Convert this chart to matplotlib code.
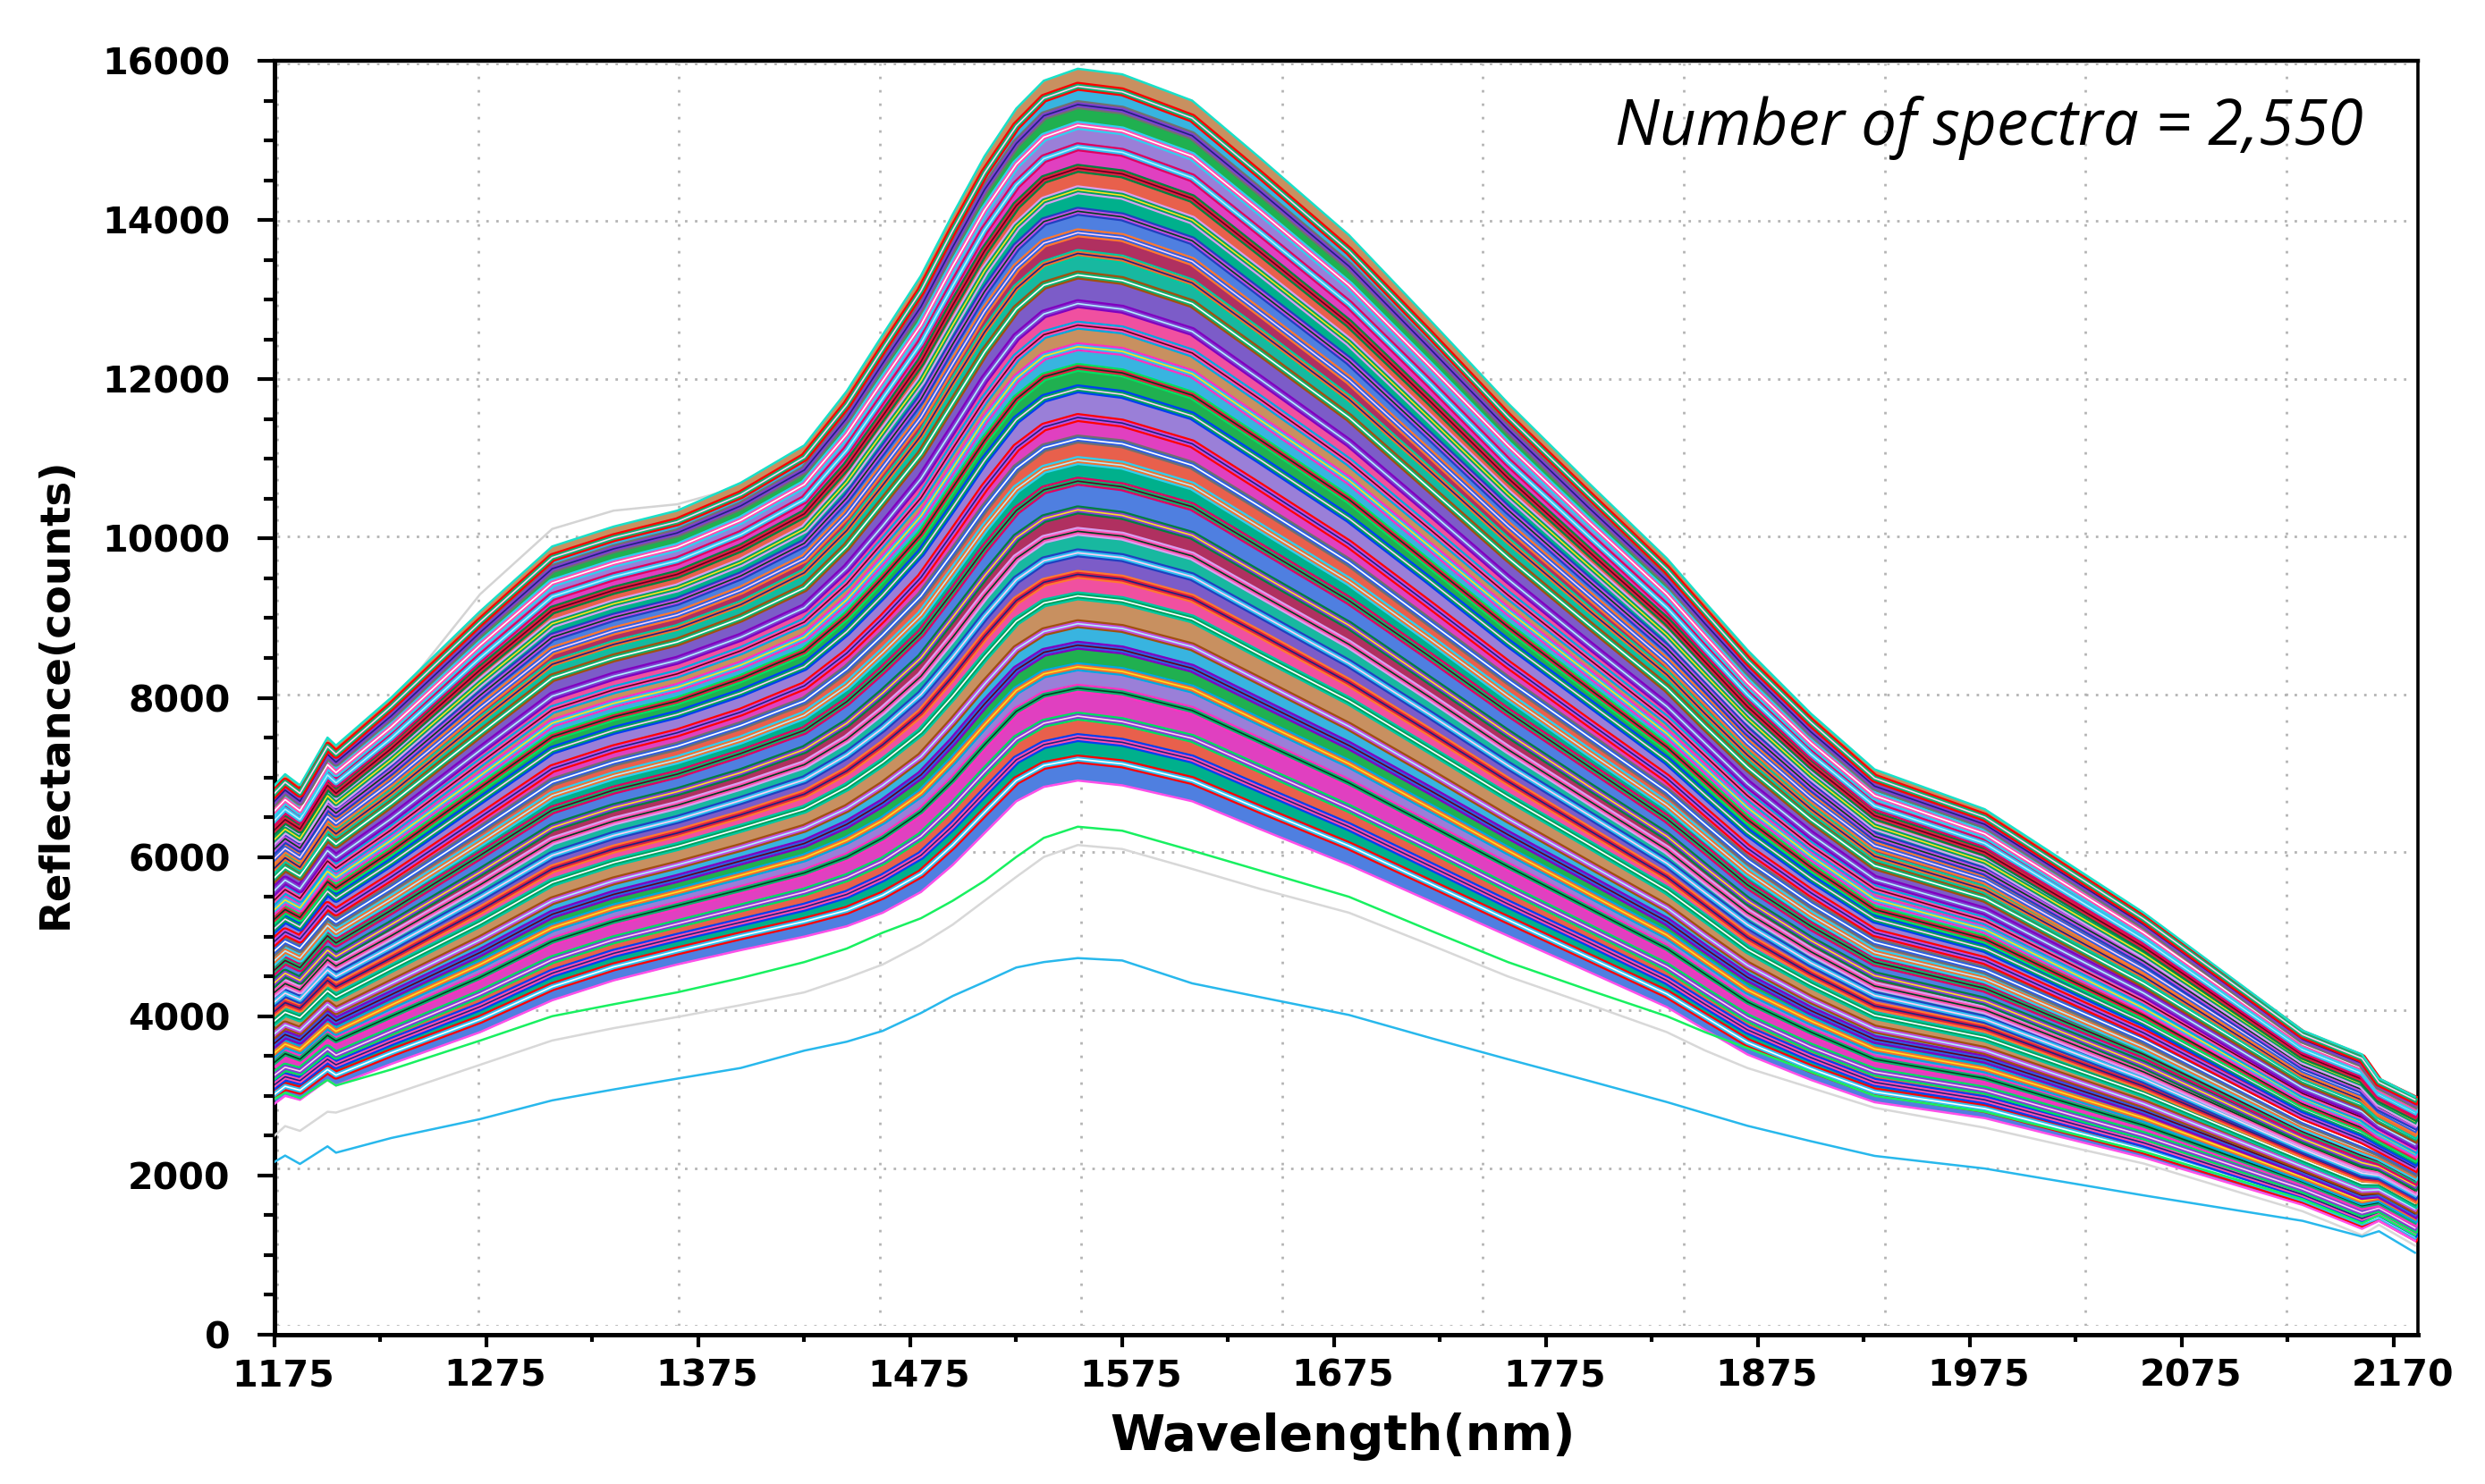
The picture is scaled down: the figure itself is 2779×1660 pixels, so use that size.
import matplotlib
matplotlib.use("Agg")
import matplotlib.pyplot as plt
from matplotlib.ticker import MultipleLocator
from matplotlib.transforms import ScaledTranslation

# values, one row per spectrum, band rows are estimates
wavelength = [1175, 1180, 1187, 1200, 1204, 1230, 1272, 1306, 1335, 1365, 1395, 1425, 1445, 1462, 1480, 1495, 1510, 1525, 1538,
              1554, 1575, 1608, 1640, 1682, 1720, 1757, 1795, 1832, 1850, 1870, 1900, 1930, 1982, 2057, 2132, 2160, 2168, 2185]

lowest_spectrum = [2170, 2250, 2145, 2366, 2286, 2470, 2708, 2943, 3080, 3216, 3350, 3568, 3680, 3816, 4040, 4254, 4430, 4612, 4680,
                   4730, 4700, 4413, 4240, 4016, 3730, 3460, 3190, 2922, 2780, 2624, 2430, 2246, 2087, 1750, 1430, 1232, 1300, 1030]
gray_spectrum = [2500, 2620, 2560, 2800, 2790, 3014, 3390, 3695, 3850, 3990, 4140, 4300, 4480, 4650, 4900, 5150, 5450, 5750, 6000,
                 6150, 6100, 5850, 5600, 5300, 4900, 4500, 4150, 3800, 3570, 3350, 3100, 2850, 2600, 2150, 1550, 1250, 1380, 1120]
green_spectrum = [2960, 3040, 2970, 3200, 3130, 3330, 3694, 4000, 4150, 4300, 4480, 4680, 4850, 5050, 5230, 5450, 5700, 6000, 6240,
                  6380, 6330, 6080, 5830, 5500, 5080, 4680, 4330, 4000, 3800, 3600, 3300, 3000, 2800, 2300, 1700, 1400, 1500, 1250]
gray_top_wavelength = [1175, 1180, 1187, 1200, 1204, 1230, 1272, 1306, 1335, 1365, 1395]
gray_top_spectrum = [6700, 6850, 6700, 7300, 7250, 7900, 9300, 10120, 10350, 10430, 10650]

band_spectra = [
    [2900, 3000, 2950, 3200, 3130, 3400, 3800, 4200, 4450, 4650, 4830, 5000, 5130, 5300, 5560, 5900, 6300, 6700, 6880, 6960, 6900, 6700, 6350, 5900, 5450, 5010, 4560, 4115, 3830, 3520, 3200, 2920, 2720, 2225, 1630, 1330, 1430, 1180],
    [3020, 3120, 3070, 3330, 3260, 3540, 3960, 4370, 4620, 4820, 5010, 5190, 5330, 5520, 5790, 6150, 6560, 6960, 7150, 7230, 7170, 6960, 6600, 6140, 5670, 5210, 4740, 4280, 3990, 3670, 3340, 3050, 2840, 2320, 1700, 1400, 1480, 1230],
    [3140, 3240, 3190, 3460, 3390, 3680, 4120, 4540, 4790, 4990, 5180, 5370, 5530, 5740, 6020, 6390, 6810, 7220, 7410, 7500, 7440, 7230, 6860, 6380, 5890, 5410, 4930, 4450, 4150, 3830, 3480, 3170, 2950, 2410, 1760, 1460, 1540, 1290],
    [3260, 3360, 3310, 3590, 3510, 3810, 4280, 4710, 4960, 5160, 5360, 5560, 5740, 5950, 6260, 6640, 7070, 7480, 7680, 7770, 7700, 7490, 7110, 6610, 6110, 5610, 5110, 4620, 4310, 3980, 3610, 3300, 3070, 2500, 1830, 1530, 1590, 1340],
    [3420, 3530, 3460, 3760, 3690, 4000, 4490, 4940, 5190, 5390, 5590, 5800, 6000, 6240, 6570, 6960, 7410, 7830, 8030, 8120, 8060, 7840, 7450, 6930, 6400, 5880, 5360, 4850, 4530, 4180, 3800, 3460, 3220, 2630, 1920, 1620, 1660, 1420],
    [3540, 3650, 3580, 3890, 3810, 4140, 4650, 5110, 5360, 5560, 5770, 5990, 6210, 6460, 6800, 7210, 7660, 8090, 8300, 8390, 8330, 8110, 7700, 7170, 6620, 6080, 5540, 5020, 4690, 4330, 3940, 3590, 3340, 2720, 1980, 1680, 1720, 1470],
    [3660, 3770, 3700, 4020, 3940, 4270, 4800, 5280, 5530, 5730, 5950, 6170, 6410, 6680, 7030, 7450, 7920, 8350, 8570, 8660, 8600, 8370, 7950, 7400, 6840, 6280, 5730, 5190, 4850, 4490, 4070, 3710, 3460, 2810, 2050, 1750, 1770, 1520],
    [3780, 3890, 3820, 4150, 4070, 4410, 4960, 5450, 5700, 5900, 6120, 6360, 6610, 6900, 7260, 7700, 8170, 8610, 8830, 8930, 8870, 8640, 8210, 7640, 7060, 6480, 5910, 5360, 5010, 4640, 4210, 3840, 3570, 2900, 2110, 1810, 1820, 1580],
    [3940, 4050, 3980, 4320, 4240, 4600, 5170, 5680, 5930, 6130, 6360, 6600, 6880, 7190, 7570, 8020, 8510, 8960, 9190, 9280, 9220, 8990, 8540, 7960, 7350, 6750, 6160, 5580, 5230, 4840, 4400, 4010, 3730, 3030, 2200, 1900, 1900, 1650],
    [4060, 4170, 4100, 4450, 4370, 4730, 5330, 5850, 6100, 6300, 6530, 6790, 7080, 7410, 7810, 8270, 8770, 9220, 9450, 9550, 9490, 9250, 8800, 8190, 7570, 6950, 6340, 5750, 5390, 4990, 4530, 4130, 3850, 3120, 2270, 1970, 1950, 1710],
    [4180, 4290, 4210, 4580, 4500, 4870, 5490, 6020, 6270, 6470, 6710, 6970, 7280, 7620, 8040, 8510, 9020, 9480, 9720, 9820, 9760, 9520, 9050, 8430, 7790, 7150, 6530, 5920, 5550, 5150, 4670, 4260, 3960, 3210, 2330, 2030, 2000, 1760],
    [4300, 4410, 4330, 4710, 4630, 5010, 5650, 6200, 6450, 6650, 6890, 7160, 7480, 7840, 8270, 8760, 9280, 9750, 9990, 10090, 10030, 9780, 9300, 8670, 8010, 7350, 6710, 6090, 5710, 5300, 4810, 4380, 4080, 3300, 2400, 2100, 2060, 1810],
    [4420, 4540, 4450, 4830, 4750, 5150, 5810, 6370, 6620, 6820, 7060, 7350, 7680, 8060, 8500, 9010, 9530, 10010, 10250, 10360, 10290, 10040, 9550, 8910, 8220, 7550, 6890, 6260, 5870, 5450, 4950, 4510, 4190, 3390, 2460, 2160, 2110, 1870],
    [4580, 4700, 4610, 5010, 4920, 5330, 6020, 6590, 6840, 7040, 7300, 7590, 7950, 8350, 8810, 9330, 9870, 10350, 10610, 10720, 10650, 10400, 9890, 9220, 8520, 7820, 7140, 6480, 6090, 5650, 5130, 4680, 4350, 3520, 2550, 2250, 2180, 1940],
    [4700, 4820, 4730, 5140, 5050, 5470, 6180, 6770, 7020, 7220, 7470, 7780, 8150, 8570, 9040, 9580, 10130, 10620, 10870, 10980, 10920, 10660, 10140, 9460, 8740, 8020, 7320, 6650, 6250, 5810, 5270, 4800, 4470, 3610, 2620, 2320, 2240, 2000],
    [4820, 4940, 4850, 5260, 5180, 5610, 6340, 6940, 7190, 7390, 7650, 7960, 8360, 8790, 9280, 9820, 10380, 10880, 11140, 11250, 11190, 10920, 10400, 9700, 8950, 8220, 7510, 6820, 6410, 5960, 5410, 4930, 4580, 3700, 2680, 2380, 2290, 2050],
    [4940, 5060, 4970, 5390, 5310, 5750, 6500, 7110, 7360, 7560, 7820, 8150, 8560, 9000, 9510, 10070, 10640, 11140, 11400, 11520, 11450, 11190, 10650, 9930, 9170, 8420, 7690, 6990, 6570, 6110, 5550, 5050, 4700, 3790, 2750, 2450, 2340, 2100],
    [5100, 5220, 5120, 5570, 5480, 5930, 6710, 7340, 7590, 7790, 8060, 8390, 8830, 9290, 9820, 10390, 10980, 11490, 11760, 11880, 11810, 11540, 10990, 10250, 9470, 8690, 7940, 7210, 6780, 6310, 5730, 5220, 4850, 3920, 2840, 2540, 2420, 2180],
    [5220, 5340, 5240, 5690, 5610, 6070, 6870, 7510, 7760, 7960, 8240, 8580, 9030, 9510, 10050, 10640, 11230, 11750, 12030, 12150, 12080, 11800, 11240, 10490, 9680, 8890, 8120, 7380, 6950, 6470, 5870, 5340, 4970, 4010, 2900, 2600, 2470, 2230],
    [5340, 5460, 5360, 5820, 5740, 6210, 7020, 7680, 7930, 8130, 8410, 8760, 9230, 9730, 10280, 10880, 11490, 12010, 12290, 12410, 12350, 12070, 11490, 10730, 9900, 9090, 8310, 7550, 7110, 6620, 6010, 5470, 5090, 4100, 2970, 2670, 2520, 2280],
    [5460, 5590, 5480, 5950, 5860, 6340, 7180, 7850, 8100, 8300, 8590, 8950, 9430, 9950, 10510, 11130, 11740, 12270, 12560, 12680, 12620, 12330, 11750, 10960, 10120, 9290, 8490, 7720, 7270, 6770, 6140, 5600, 5200, 4190, 3030, 2730, 2580, 2340],
    [5580, 5710, 5600, 6080, 5990, 6480, 7340, 8020, 8270, 8470, 8760, 9130, 9630, 10160, 10750, 11370, 12000, 12530, 12820, 12950, 12880, 12600, 12000, 11200, 10340, 9490, 8670, 7890, 7430, 6920, 6280, 5720, 5320, 4290, 3100, 2800, 2630, 2390],
    [5740, 5870, 5760, 6250, 6160, 6670, 7550, 8250, 8500, 8700, 9000, 9380, 9900, 10460, 11060, 11700, 12340, 12880, 13180, 13310, 13240, 12950, 12340, 11520, 10630, 9760, 8920, 8120, 7640, 7130, 6470, 5890, 5480, 4410, 3190, 2890, 2700, 2470],
    [5860, 5990, 5870, 6380, 6290, 6800, 7710, 8420, 8670, 8870, 9170, 9570, 10100, 10670, 11290, 11950, 12590, 13140, 13440, 13580, 13510, 13210, 12590, 11750, 10850, 9960, 9100, 8290, 7800, 7280, 6600, 6010, 5590, 4500, 3250, 2950, 2760, 2520],
    [5980, 6110, 5990, 6510, 6420, 6940, 7870, 8590, 8840, 9040, 9350, 9750, 10300, 10890, 11520, 12190, 12850, 13400, 13710, 13840, 13780, 13480, 12840, 11990, 11070, 10160, 9290, 8450, 7970, 7430, 6740, 6140, 5710, 4590, 3320, 3020, 2810, 2570],
    [6100, 6230, 6110, 6640, 6550, 7080, 8030, 8760, 9010, 9210, 9530, 9940, 10510, 11110, 11750, 12440, 13100, 13660, 13980, 14110, 14040, 13740, 13090, 12230, 11290, 10360, 9470, 8620, 8130, 7580, 6880, 6260, 5820, 4690, 3380, 3080, 2860, 2630],
    [6220, 6350, 6230, 6770, 6670, 7220, 8190, 8930, 9180, 9380, 9700, 10120, 10710, 11330, 11980, 12680, 13360, 13920, 14240, 14380, 14310, 14000, 13350, 12470, 11510, 10560, 9660, 8790, 8290, 7740, 7020, 6390, 5940, 4780, 3450, 3150, 2920, 2680],
    [6340, 6470, 6350, 6900, 6800, 7360, 8350, 9100, 9350, 9550, 9880, 10310, 10910, 11540, 12220, 12930, 13610, 14180, 14510, 14650, 14580, 14270, 13600, 12700, 11730, 10760, 9840, 8960, 8450, 7890, 7160, 6520, 6060, 4870, 3510, 3210, 2970, 2740],
    [6460, 6600, 6470, 7030, 6930, 7490, 8500, 9270, 9520, 9720, 10050, 10490, 11110, 11760, 12450, 13170, 13870, 14440, 14770, 14920, 14850, 14530, 13850, 12940, 11950, 10960, 10030, 9130, 8610, 8040, 7290, 6640, 6170, 4960, 3580, 3280, 3020, 2790],
    [6580, 6720, 6580, 7160, 7060, 7630, 8660, 9440, 9690, 9890, 10230, 10680, 11310, 11980, 12680, 13420, 14120, 14700, 15040, 15190, 15120, 14800, 14110, 13180, 12170, 11170, 10210, 9300, 8770, 8190, 7430, 6770, 6290, 5050, 3650, 3350, 3080, 2850],
    [6700, 6840, 6700, 7290, 7190, 7770, 8820, 9620, 9870, 10070, 10410, 10860, 11510, 12200, 12910, 13660, 14380, 14960, 15310, 15450, 15380, 15060, 14360, 13420, 12390, 11370, 10390, 9470, 8930, 8350, 7570, 6890, 6410, 5150, 3710, 3410, 3130, 2900],
    [6800, 6940, 6800, 7390, 7290, 7890, 8950, 9760, 10010, 10210, 10550, 11020, 11680, 12380, 13110, 13870, 14590, 15180, 15530, 15680, 15610, 15280, 14570, 13610, 12570, 11530, 10550, 9610, 9070, 8470, 7690, 6990, 6500, 5220, 3770, 3470, 3170, 2950],
    [6900, 7040, 6900, 7500, 7400, 8000, 9085, 9900, 10150, 10350, 10700, 11170, 11850, 12560, 13300, 14070, 14800, 15400, 15750, 15900, 15830, 15500, 14780, 13810, 12750, 11700, 10700, 9750, 9200, 8600, 7800, 7100, 6600, 5300, 3820, 3520, 3220, 2990],
]

x_ticks = [1175, 1275, 1375, 1475, 1575, 1675, 1775, 1875, 1975, 2075, 2175]
x_labels = ["1175", "1275", "1375", "1475", "1575", "1675", "1775", "1875", "1975", "2075", "2170"]
y_ticks = [0, 2000, 4000, 6000, 8000, 10000, 12000, 14000, 16000]

fill_colors = ["#4f7fe0", "#00b08c", "#e8604c", "#e040c0", "#9a7fd8", "#20b050", "#38b4e0",
               "#c89060", "#f050a0", "#7c5cc8", "#18b8a0", "#b03060"]
line_colors = ["#ff0000", "#0040f0", "#00e060", "#ff30c0", "#00a8e0", "#8000c0", "#a05010",
               "#00c8a0", "#ff7830", "#2040c0", "#d8a0f0", "#008040", "#e00060", "#30d0f0", "#707070"]
mid_colors = ["#30c0f0", "#ff50b0", "#8040d0", "#10b070", "#f07030", "#3060e0", "#c050e0", "#00a060", "#e02040"]
thin_colors = ["#ffffff", "#202080", "#ffd0f0", "#004020", "#ffe020", "#600020", "#b0f0ff"]

FIG_W, FIG_H = 2779, 1660
DPI = 200


def box(left, top, right, bottom):
    return [left / FIG_W, 1 - bottom / FIG_H, (right - left) / FIG_W, (bottom - top) / FIG_H]


fig = plt.figure(figsize=(FIG_W / DPI, FIG_H / DPI), dpi=DPI)

# the dotted grid of the original sits slightly off the ticks, so it gets its own axes
grid_ax = fig.add_axes(box(310, 71, 2693, 1483), zorder=1)
grid_ax.set_xlim(1175, 2235.5)
grid_ax.set_ylim(0, 16000)
grid_ax.set_xticks(range(1175, 2235, 100))
grid_ax.set_yticks(y_ticks)
grid_ax.grid(True, axis="x", color="#b4b4b4", lw=1.0, ls=(0, (1, 4.4)))
grid_ax.grid(True, axis="y", color="#b4b4b4", lw=1.0, ls=(0, (1, 3)))
grid_ax.tick_params(left=False, bottom=False, labelleft=False, labelbottom=False)
for side in grid_ax.spines.values():
    side.set_visible(False)
grid_ax.set_axisbelow(True)

ax = fig.add_axes(box(307, 68, 2704, 1493), zorder=2)
ax.patch.set_alpha(0)
ax.set_xlim(1175, 2186.4)
ax.set_ylim(0, 16000)

ax.plot(gray_top_wavelength, gray_top_spectrum, color="#d4d4d4", lw=0.9, zorder=2)

for i in range(len(band_spectra) - 1):
    ax.fill_between(wavelength, band_spectra[i], band_spectra[i + 1],
                    color=fill_colors[i % len(fill_colors)], lw=0, zorder=3)
# three nested strokes per curve, gives the fine stripes of the original
for i, spectrum in enumerate(band_spectra[1:-1]):
    ax.plot(wavelength, spectrum, color=line_colors[i % len(line_colors)], lw=3.6, zorder=4)
    ax.plot(wavelength, spectrum, color=mid_colors[i % len(mid_colors)], lw=2.0, zorder=4)
    ax.plot(wavelength, spectrum, color=thin_colors[i % len(thin_colors)], lw=0.6, zorder=4)

ax.plot(wavelength, band_spectra[0], color="#ff50e8", lw=0.9, zorder=6)
ax.plot(wavelength, band_spectra[-1], color="#18e0c8", lw=0.9, zorder=6)
ax.plot(wavelength, gray_spectrum, color="#d8d8d8", lw=0.9, zorder=6)
ax.plot(wavelength, green_spectrum, color="#18f060", lw=0.9, zorder=6)
ax.plot(wavelength, lowest_spectrum, color="#28b8ec", lw=0.9, zorder=6)

ax.set_xticks(x_ticks)
ax.set_xticklabels(x_labels)
ax.set_yticks(y_ticks)
ax.xaxis.set_minor_locator(MultipleLocator(50, offset=25))
ax.yaxis.set_minor_locator(MultipleLocator(500))
ax.tick_params(axis="x", which="major", length=5, width=1.5, pad=4.5, labelsize=14.8)
ax.tick_params(axis="x", which="minor", length=3, width=1.5)
ax.tick_params(axis="y", which="major", length=6.8, width=1.5, pad=11, labelsize=14.8)
ax.tick_params(axis="y", which="minor", length=4.5, width=1.5)
for label in ax.get_xticklabels() + ax.get_yticklabels():
    label.set_fontweight("bold")
shift = ScaledTranslation(10 / DPI, 0, fig.dpi_scale_trans)
for label in ax.get_xticklabels():
    label.set_transform(label.get_transform() + shift)

for name, width in [("left", 1.8), ("bottom", 1.8), ("top", 1.6), ("right", 1.3)]:
    ax.spines[name].set_linewidth(width)

fig.text(1502 / FIG_W, 1 - 1607 / FIG_H, "Wavelength(nm)", fontsize=20, fontweight="bold",
         ha="center", va="center")
fig.text(62 / FIG_W, 1 - 775 / FIG_H, "Reflectance(counts)", fontsize=16.8, fontweight="bold",
         rotation=90, ha="center", va="center")
fig.text(1806 / FIG_W, 1 - 162 / FIG_H, "Number of spectra = 2,550", fontsize=25.5,
         family="Open Sans", style="italic", ha="left", va="baseline")

fig.savefig("out.png", dpi=DPI)
